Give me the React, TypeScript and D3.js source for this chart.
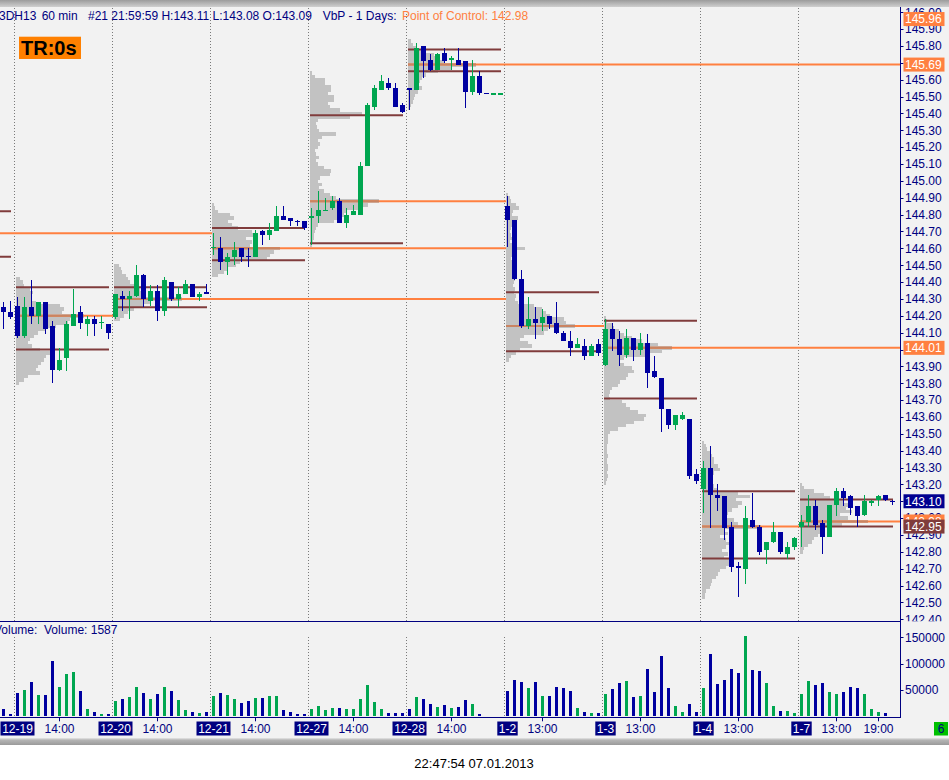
import * as d3 from "d3";

const W = 949;
const H = 780;

const GREEN = "#00a650";
const BLUE = "#0000a0";
const NAVY = "#000080";
const ORANGE = "#ff8040";
const ORANGE_MUTED = "#c98462";
const BROWN = "#803c3c";
const FONT = "'Liberation Sans', Arial, sans-serif";

const dayLabels = ["12-19", "12-20", "12-21", "12-27", "12-28", "1-2", "1-3", "1-4", "1-7"];

// [open, high, low, close]: last two bars of 12-18, then 14 hourly bars per session
const ohlc: [number, number, number, number][] = [
  [144.25, 144.28, 144.12, 144.22], [144.22, 144.29, 144.18, 144.19],
  // 12-19
  [144.26, 144.31, 144.07, 144.08], [144.08, 144.31, 144.07, 144.25], [144.25, 144.41, 144.15, 144.2], [144.2, 144.28, 144.15, 144.28],
  [144.28, 144.28, 144.09, 144.12], [144.14, 144.17, 143.8, 143.88], [143.88, 144.01, 143.87, 143.94], [143.95, 144.17, 143.87, 144.15],
  [144.14, 144.36, 144.14, 144.21], [144.22, 144.26, 144.12, 144.16], [144.15, 144.2, 144.08, 144.18], [144.18, 144.2, 144.08, 144.15],
  [144.16, 144.2, 144.12, 144.16], [144.15, 144.15, 144.06, 144.1],
  // 12-20
  [144.19, 144.33, 144.18, 144.33], [144.32, 144.35, 144.23, 144.3], [144.3, 144.35, 144.18, 144.32], [144.32, 144.5, 144.31, 144.44],
  [144.44, 144.45, 144.25, 144.3], [144.29, 144.38, 144.26, 144.35], [144.35, 144.38, 144.17, 144.23], [144.23, 144.43, 144.2, 144.41],
  [144.4, 144.4, 144.29, 144.3], [144.3, 144.37, 144.25, 144.33], [144.33, 144.41, 144.33, 144.39], [144.39, 144.39, 144.31, 144.31],
  [144.31, 144.34, 144.29, 144.33], [144.34, 144.39, 144.33, 144.33],
  // 12-21
  [144.6, 144.69, 144.56, 144.61], [144.6, 144.67, 144.47, 144.52], [144.52, 144.57, 144.44, 144.55], [144.55, 144.64, 144.5, 144.59],
  [144.6, 144.6, 144.52, 144.55], [144.55, 144.6, 144.49, 144.55], [144.55, 144.71, 144.55, 144.69], [144.7, 144.71, 144.62, 144.68],
  [144.68, 144.75, 144.65, 144.71], [144.7, 144.85, 144.7, 144.79], [144.79, 144.85, 144.77, 144.77], [144.78, 144.78, 144.73, 144.76],
  [144.76, 144.77, 144.73, 144.76], [144.76, 144.76, 144.71, 144.72],
  // 12-27
  [144.78, 144.84, 144.62, 144.79], [144.79, 144.94, 144.75, 144.83], [144.82, 144.9, 144.82, 144.83], [144.84, 144.91, 144.83, 144.88],
  [144.88, 144.9, 144.75, 144.75], [144.75, 144.84, 144.72, 144.8], [144.8, 144.86, 144.8, 144.82], [144.8, 145.11, 144.8, 145.09],
  [145.09, 145.46, 145.09, 145.45], [145.44, 145.57, 145.42, 145.55], [145.54, 145.63, 145.54, 145.59], [145.58, 145.61, 145.54, 145.55],
  [145.55, 145.58, 145.44, 145.44], [145.45, 145.46, 145.4, 145.41],
  // 12-28
  [145.55, 145.55, 145.42, 145.54], [145.54, 145.82, 145.54, 145.79], [145.8, 145.8, 145.61, 145.71], [145.72, 145.75, 145.65, 145.66],
  [145.66, 145.76, 145.66, 145.75], [145.76, 145.79, 145.7, 145.71], [145.72, 145.74, 145.66, 145.73], [145.72, 145.79, 145.69, 145.69],
  [145.71, 145.71, 145.43, 145.53], [145.53, 145.72, 145.51, 145.62], [145.62, 145.65, 145.51, 145.52], [145.52, 145.52, 145.52, 145.52],
  [145.51, 145.52, 145.51, 145.52], [145.51, 145.52, 145.51, 145.52],
  // 1-2
  [144.85, 144.91, 144.61, 144.77], [144.77, 144.77, 144.41, 144.42], [144.42, 144.47, 144.13, 144.14], [144.14, 144.31, 144.12, 144.18],
  [144.18, 144.25, 144.06, 144.16], [144.16, 144.24, 144.11, 144.19], [144.2, 144.2, 144.12, 144.15], [144.16, 144.28, 144.09, 144.1],
  [144.1, 144.11, 144.05, 144.05], [144.05, 144.11, 143.96, 144.01], [144.01, 144.07, 144.01, 144.03], [144.02, 144.06, 143.94, 143.96],
  [143.96, 144.03, 143.96, 144.02], [144.03, 144.06, 143.96, 143.98],
  // 1-3
  [143.91, 144.18, 143.9, 144.12], [144.12, 144.16, 143.99, 144.06], [144.06, 144.11, 143.9, 143.97], [143.97, 144.12, 143.95, 144.07],
  [144.07, 144.07, 143.93, 144.0], [144.0, 144.1, 143.97, 144.04], [144.04, 144.09, 143.77, 143.86], [143.87, 143.96, 143.83, 143.84],
  [143.83, 143.83, 143.51, 143.65], [143.65, 143.65, 143.53, 143.55], [143.55, 143.61, 143.52, 143.61], [143.59, 143.63, 143.58, 143.61],
  [143.59, 143.59, 143.23, 143.25], [143.26, 143.29, 143.2, 143.22],
  // 1-4
  [143.17, 143.34, 143.03, 143.3], [143.3, 143.43, 142.94, 143.14], [143.14, 143.2, 143.04, 143.12], [143.13, 143.13, 142.87, 142.94],
  [142.95, 142.98, 142.68, 142.71], [142.71, 142.74, 142.53, 142.71], [142.7, 143.07, 142.61, 143.0], [142.99, 143.15, 142.94, 142.95],
  [142.95, 142.96, 142.78, 142.8], [142.81, 142.86, 142.73, 142.86], [142.86, 142.98, 142.85, 142.92], [142.92, 142.92, 142.79, 142.8],
  [142.79, 142.86, 142.76, 142.83], [142.83, 142.89, 142.81, 142.88],
  // 1-7
  [142.95, 143.02, 142.83, 142.98], [142.98, 143.14, 142.95, 143.07], [143.07, 143.11, 142.93, 142.96], [142.97, 142.99, 142.79, 142.89],
  [142.89, 143.08, 142.89, 143.08], [143.08, 143.18, 143.01, 143.16], [143.16, 143.18, 143.07, 143.12], [143.13, 143.14, 143.02, 143.06],
  [143.07, 143.07, 142.95, 143.01], [143.02, 143.14, 143.01, 143.1], [143.09, 143.11, 143.07, 143.1], [143.11, 143.14, 143.07, 143.13],
  [143.14, 143.14, 143.1, 143.11], [143.1, 143.11, 143.08, 143.1],
];

const volume = [
  14600, 5000,
  43600, 49300, 64500, 39800, 39800, 106000, 55000, 79700, 83500, 47400, 13300, 8900, 5100, 5000,
  28500, 32300, 37300, 56300, 43600, 32300, 41700, 56300, 47400, 30400, 11400, 7600, 5700, 7600,
  37900, 43600, 39800, 32300, 24700, 28500, 34100, 34100, 37900, 37900, 11400, 7600, 3800, 5100,
  13300, 19000, 11400, 15200, 15200, 13300, 13300, 32300, 58800, 26600, 13300, 5700, 5700, 5700,
  14500, 36000, 33500, 24000, 18000, 22000, 16000, 18000, 32000, 24000, 3800, 0, 0, 0,
  47400, 69600, 64500, 53100, 64500, 37900, 37900, 55000, 53100, 47400, 15200, 7600, 5700, 5700,
  41700, 51200, 62600, 66400, 36000, 37900, 89200, 45500, 113800, 53100, 19000, 7600, 22800, 7600,
  53100, 117600, 60700, 68300, 89200, 81600, 151800, 87300, 85400, 62600, 19000, 9500, 9500, 5700,
  41700, 66400, 58800, 62600, 45500, 41700, 45500, 55000, 53100, 41700, 13300, 7600, 5700, 1587,
];

// volume profile per session, rows of 0.02 from the top price down
const profileTop = [144.42, 144.5, 144.86, 145.64, 145.83, 144.92, 144.19, 143.45, 143.2];
const profiles = [
  [4, 7, 8, 14, 17, 15, 16, 20, 44, 48, 46, 68, 54, 52, 40, 30, 22, 18, 14, 12, 16, 24, 38, 30, 28, 25, 22, 20, 24, 12, 8, 3],
  [5, 7, 8, 12, 14, 16, 20, 26, 30, 32, 68, 36, 30, 20, 14, 10, 6],
  [2, 3, 6, 18, 22, 16, 20, 26, 40, 42, 34, 40, 38, 68, 62, 58, 55, 28, 24, 16, 12, 6],
  [2, 5, 15, 15, 21, 21, 18, 24, 24, 18, 20, 30, 52, 40, 8, 6, 7, 9, 26, 12, 8, 10, 8, 5, 6, 9, 6, 8, 14, 21,
    20, 10, 8, 12, 9, 14, 20, 26, 69, 58, 50, 36, 34, 30, 24, 8, 6, 5, 4, 4, 3, 2],
  [3, 5, 8, 18, 26, 30, 36, 68, 44, 30, 18, 14, 12, 10, 14, 10, 7, 6, 5, 3, 2],
  [2, 4, 5, 10, 13, 7, 6, 12, 8, 6, 5, 4, 5, 6, 4, 8, 19, 6, 7, 5, 6, 7, 6, 8, 7, 9, 8, 7, 9, 8,
    10, 9, 12, 28, 36, 40, 44, 58, 60, 69, 42, 38, 18, 14, 22, 26, 14, 10, 5, 3],
  [2, 3, 8, 10, 15, 20, 28, 38, 54, 68, 58, 46, 20, 16, 20, 28, 30, 24, 22, 16, 14, 8, 6, 5, 6, 18, 22, 26, 34, 42,
    40, 30, 22, 14, 6, 4, 4, 4, 3, 3, 3, 4, 3, 3, 4, 4, 3, 4, 3, 2],
  [2, 4, 5, 8, 10, 12, 12, 16, 18, 12, 10, 8, 9, 12, 16, 36, 48, 34, 40, 36, 30, 26, 22, 32, 36, 59, 22, 26, 18, 24,
    32, 24, 20, 26, 22, 28, 30, 24, 18, 16, 14, 10, 9, 8, 4, 3, 3],
  [2, 4, 14, 24, 30, 44, 50, 46, 52, 40, 48, 68, 42, 22, 20, 18, 14, 12, 8, 4, 3],
];

// point of control and value area, 12-18 first, then one per session
const pocs = [144.69, 144.2, 144.3, 144.6, 144.88, 145.69, 144.14, 144.01, 142.95, 142.98];
const vaHigh = [144.82, 144.37, 144.37, 144.72, 145.39, 145.78, 144.34, 144.17, 143.16, 143.11];
const vaLow = [144.55, 144.0, 144.25, 144.53, 144.63, 145.65, 143.99, 143.71, 142.76, 142.95];

const priceTicks = d3.range(0, 37).map((i) => 142.4 + i * 0.1);
const volumeTicks = [50000, 100000, 150000];
const markerPrices = [145.96, 145.69, 144.01, 142.98, 143.1, 142.95];
const markerKinds = ["poc", "poc", "poc", "poc", "last", "va"];
const hourBars = [8, 22, 36, 50, 64, 77, 91, 105, 119, 125];
const hourLabels = ["14:00", "14:00", "14:00", "14:00", "14:00", "13:00", "13:00", "13:00", "13:00", "19:00"];

const dayStart = (d: number) => 2 + 14 * d;

export default function App() {
  const x = d3.scaleLinear().domain([0, ohlc.length - 1]).range([3.7, 3.7 + 7 * (ohlc.length - 1)]);
  const y = d3.scaleLinear().domain([142.4, 146.0]).range([619.3, 12.3]);
  const yv = d3.scaleLinear().domain([0, 150000]).range([716.4, 637.3]);
  const maxProf = d3.max(profiles.flat()) as number;
  const pw = d3.scaleLinear().domain([0, maxProf]).range([0, 69]);

  const axisX = 900.5;
  const paneTop = 7;
  const paneBottom = 621.3;
  const volBottom = 717.3;

  const cxOf = (i: number) => Math.floor(x(i));
  const isUp = (i: number) => {
    const [o, , , c] = ohlc[i];
    const prev = i > 0 ? ohlc[i - 1][3] : o;
    return c > o || (c === o && c > prev);
  };

  const dayRange = dayLabels.map((_, d) => {
    const bars = ohlc.slice(dayStart(d), dayStart(d) + 14);
    return [d3.min(bars, (b) => b[2]) as number, d3.max(bars, (b) => b[1]) as number];
  });

  const markerFill: Record<string, string> = { poc: ORANGE, last: "#000090", va: BROWN };

  return (
    <div style={{ position: "absolute", left: 0, top: 0 }}>
      <svg width={W} height={H} style={{ display: "block", fontFamily: FONT }}>
        <defs>
          <clipPath id="price">
            <rect x={0} y={paneTop} width={axisX} height={paneBottom - paneTop} />
          </clipPath>
          <clipPath id="priceAxis">
            <rect x={axisX} y={paneTop} width={W - axisX} height={paneBottom - paneTop} />
          </clipPath>
          <linearGradient id="bar" x1="0" y1="0" x2="0" y2="1">
            <stop offset="0" stopColor="#9c9c9c" />
            <stop offset="1" stopColor="#cfcfcf" />
          </linearGradient>
          <linearGradient id="bar2" x1="0" y1="0" x2="0" y2="1">
            <stop offset="0" stopColor="#e6e6e6" />
            <stop offset="0.3" stopColor="#b4b4b4" />
            <stop offset="1" stopColor="#9a9a9a" />
          </linearGradient>
        </defs>

        <rect x={0} y={0} width={W} height={H} fill="#ffffff" />
        <rect x={0} y={0} width={W} height={745} fill="#f2f2f2" />
        <rect x={0} y={0} width={W} height={paneTop} fill="url(#bar)" />
        <rect x={0} y={738} width={W} height={7} fill="url(#bar2)" />

        {/* session separators */}
        <g stroke="#7a7a7a" strokeDasharray="1,2" shapeRendering="crispEdges">
          {dayLabels.map((_, d) => {
            const sx = cxOf(dayStart(d)) - 3 + 0.5;
            return (
              <g key={d}>
                <line x1={sx} x2={sx} y1={paneTop + 1} y2={paneBottom} />
                <line x1={sx} x2={sx} y1={637} y2={volBottom} />
              </g>
            );
          })}
        </g>

        <g clipPath="url(#price)">
          {/* volume profiles */}
          <g fill="#c2c2c2" shapeRendering="crispEdges">
            {profiles.map((rows, d) =>
              rows.map((v, r) => {
                const p = profileTop[d] - 0.02 * r;
                const y0 = y(p + 0.01);
                const y1 = y(p - 0.01);
                return (
                  <rect key={`${d}-${r}`} x={cxOf(dayStart(d)) - 1} y={y0} width={pw(v)} height={y1 - y0 + 0.3} />
                );
              }),
            )}
          </g>

          {/* value area lines */}
          <g stroke={BROWN} strokeWidth={2}>
            {pocs.map((_, j) => {
              const d = j - 1;
              const x0 = cxOf(dayStart(d)) - 1;
              const x1 = cxOf(dayStart(d) + 13) + 1;
              return (
                <g key={j}>
                  <line x1={x0} x2={x1} y1={y(vaHigh[j])} y2={y(vaHigh[j])} />
                  <line x1={x0} x2={x1} y1={y(vaLow[j])} y2={y(vaLow[j])} />
                </g>
              );
            })}
          </g>

          {/* points of control, extended until a later session trades through them */}
          <g strokeWidth={2}>
            {pocs.map((p, j) => {
              const d = j - 1;
              const x0 = cxOf(dayStart(d)) - 1;
              const hit = dayRange.findIndex((r, e) => e > d && r[0] <= p && p <= r[1]);
              const x1 = hit >= 0 ? cxOf(dayStart(hit)) - 1 : axisX;
              const muted = d >= 0 ? x0 + pw(d3.max(profiles[d]) as number) : x0;
              return (
                <g key={j}>
                  <line x1={x0} x2={x1} y1={y(p)} y2={y(p)} stroke={ORANGE} />
                  {d >= 0 && <line x1={x0} x2={muted} y1={y(p)} y2={y(p)} stroke={ORANGE_MUTED} />}
                </g>
              );
            })}
          </g>

          {/* candles */}
          <g shapeRendering="crispEdges">
            {ohlc.map(([o, h, l, c], i) => {
              const col = isUp(i) ? GREEN : BLUE;
              const cx = cxOf(i);
              let top = y(Math.max(o, c));
              let bh = y(Math.min(o, c)) - top;
              if (bh < 1.4) {
                top -= (1.4 - bh) / 2;
                bh = 1.4;
              }
              return (
                <g key={i}>
                  <line x1={cx + 0.5} x2={cx + 0.5} y1={y(h)} y2={y(l)} stroke={col} />
                  <rect x={cx - 2} y={top} width={5} height={bh} fill={col} />
                </g>
              );
            })}
          </g>
        </g>

        {/* header */}
        <g fontSize={12} fill={NAVY}>
          <text x={-1} y={19.5}>3DH13</text>
          <text x={41.7} y={19.5}>60 min</text>
          <text x={88} y={19.5}>#21 21:59:59 H:143.11 L:143.08 O:143.09</text>
          <text x={322.7} y={19.5}>VbP - 1 Days:</text>
          <text x={402} y={19.5} fill={ORANGE}>Point of Control: 142.98</text>
        </g>
        <rect x={19} y={36.7} width={62} height={22.3} fill="#ff8000" />
        <text x={21} y={55} fontSize={20} fontWeight="bold" fill="#000">TR:0s</text>

        {/* volume pane */}
        <text x={-6} y={633.5} fontSize={12} fill={NAVY} xmlSpace="preserve">Volume:  Volume: 1587</text>
        <g shapeRendering="crispEdges">
          {volume.map((v, i) => (
            <rect key={i} x={cxOf(i) - 1} y={yv(v)} width={3} height={yv(0) - yv(v)} fill={isUp(i) ? GREEN : BLUE} />
          ))}
        </g>

        {/* frame lines */}
        <g stroke={NAVY} shapeRendering="crispEdges">
          <line x1={0} x2={axisX} y1={paneBottom} y2={paneBottom} />
          <line x1={0} x2={axisX} y1={volBottom} y2={volBottom} />
          <line x1={axisX} x2={axisX} y1={paneTop} y2={volBottom} />
        </g>

        {/* price axis */}
        <g clipPath="url(#priceAxis)" fontSize={12} fill={NAVY}>
          {priceTicks.map((p) => (
            <g key={p.toFixed(2)}>
              <line x1={axisX} x2={axisX + 3} y1={Math.round(y(p)) + 0.5} y2={Math.round(y(p)) + 0.5} stroke={NAVY} />
              <text x={905} y={y(p) + 4.3}>{p.toFixed(2)}</text>
            </g>
          ))}
          {markerPrices.map((p, k) => (
            <g key={k}>
              <rect x={903.5} y={y(p) - 7} width={41} height={14} fill={markerFill[markerKinds[k]]} />
              <text x={905} y={y(p) + 4.3} fill="#fff">{p.toFixed(2)}</text>
            </g>
          ))}
        </g>

        {/* volume axis */}
        <g fontSize={12} fill={NAVY}>
          {volumeTicks.map((v) => (
            <g key={v}>
              <line x1={axisX} x2={axisX + 3} y1={Math.round(yv(v)) + 0.5} y2={Math.round(yv(v)) + 0.5} stroke={NAVY} />
              <text x={905} y={yv(v) + 4.3}>{v}</text>
            </g>
          ))}
        </g>

        {/* time axis */}
        <g fontSize={12} textAnchor="middle">
          {hourBars.map((b, k) => (
            <g key={k}>
              <line x1={cxOf(b) + 0.5} x2={cxOf(b) + 0.5} y1={volBottom} y2={volBottom + 4} stroke={NAVY} />
              <text x={cxOf(b) + 0.5} y={732.5} fill={NAVY}>{hourLabels[k]}</text>
            </g>
          ))}
          {dayLabels.map((lab, d) => {
            const cx = cxOf(dayStart(d)) + 0.5;
            const w = 6.8 * lab.length;
            return (
              <g key={lab}>
                <rect x={cx - w / 2} y={721.5} width={w} height={14} fill={NAVY} />
                <text x={cx} y={732.5} fill="#fff">{lab}</text>
              </g>
            );
          })}
          <rect x={934} y={722} width={14} height={13.5} fill="#00c000" />
          <text x={941} y={733} fill={NAVY}>6</text>
        </g>

        <text x={474} y={768} fontSize={13} textAnchor="middle" fill="#000">22:47:54 07.01.2013</text>
      </svg>
    </div>
  );
}
